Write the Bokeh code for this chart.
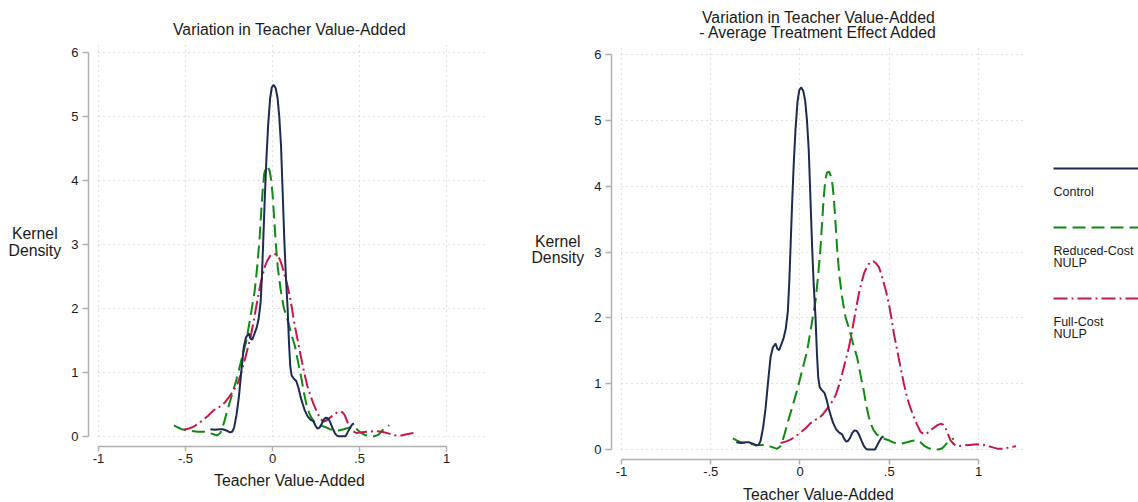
from bokeh.plotting import figure
from bokeh.models import Range1d, FixedTicker, Label
from bokeh.layouts import row
from bokeh.embed import file_html
from bokeh.resources import INLINE
from bokeh.core.properties import value

FONT = "Liberation Sans"
TXT = "#1a1a1a"

# ---------------- data (teacher value-added kernel densities) ----------------
ctrl_x = [-0.357, -0.33, -0.305, -0.287, -0.265, -0.245, -0.232, -0.221, -0.207, -0.193,
          -0.178, -0.165, -0.152, -0.137, -0.127, -0.117, -0.104, -0.091, -0.08, -0.068,
          -0.06, -0.053, -0.044, -0.035, -0.025, -0.014, -0.004, 0.007, 0.018, 0.029,
          0.039, 0.049, 0.058, 0.068, 0.077, 0.087, 0.095, 0.102, 0.11, 0.12,
          0.137, 0.15, 0.161, 0.174, 0.186, 0.202, 0.218, 0.236, 0.248, 0.259,
          0.269, 0.279, 0.292, 0.305, 0.318, 0.33, 0.345, 0.358, 0.37, 0.38,
          0.42, 0.432, 0.445, 0.457, 0.468]
ctrl_y = [0.11, 0.10, 0.11, 0.11, 0.09, 0.06, 0.07, 0.13, 0.33, 0.62,
          1.05, 1.40, 1.55, 1.61, 1.53, 1.51, 1.60, 1.70, 1.83, 2.10,
          2.55, 3.07, 3.75, 4.34, 4.87, 5.28, 5.46, 5.50, 5.45, 5.30,
          5.00, 4.55, 3.85, 3.07, 2.50, 2.00, 1.45, 1.10, 0.95, 0.91,
          0.86, 0.75, 0.62, 0.50, 0.40, 0.31, 0.26, 0.23, 0.16, 0.12,
          0.13, 0.17, 0.25, 0.29, 0.28, 0.23, 0.13, 0.05, 0.01, 0.0,
          0.0, 0.06, 0.13, 0.18, 0.20]

red_x = [-0.566, -0.545, -0.523, -0.48, -0.43, -0.39, -0.35, -0.318, -0.30, -0.29,
         -0.276, -0.262, -0.235, -0.206, -0.178, -0.15, -0.125, -0.103, -0.088, -0.075,
         -0.065, -0.057, -0.048, -0.038, -0.027, -0.015, -0.007, 0.0, 0.01, 0.018,
         0.03, 0.046, 0.065, 0.08, 0.093, 0.11, 0.13, 0.15, 0.168, 0.182,
         0.196, 0.21, 0.223, 0.24, 0.261, 0.285, 0.308, 0.33, 0.355, 0.38,
         0.41, 0.435, 0.463, 0.485, 0.504, 0.53, 0.56, 0.585, 0.607, 0.625,
         0.644, 0.672]
red_y = [0.17, 0.14, 0.11, 0.09, 0.07, 0.07, 0.04, 0.01, 0.05, 0.11,
         0.24, 0.38, 0.63, 0.90, 1.20, 1.50, 1.90, 2.26, 2.65, 3.07,
         3.50, 3.83, 4.10, 4.21, 4.22, 4.14, 4.00, 3.80, 3.40, 3.05,
         2.65, 2.31, 2.01, 1.88, 1.76, 1.58, 1.40, 1.12, 0.88, 0.66,
         0.49, 0.37, 0.29, 0.23, 0.19, 0.16, 0.14, 0.11, 0.09, 0.09,
         0.11, 0.13, 0.14, 0.11, 0.06, 0.02, 0.0, 0.0, 0.02, 0.07,
         0.13, 0.17]

full_x = [-0.509, -0.48, -0.453, -0.425, -0.397, -0.37, -0.341, -0.315, -0.295, -0.27,
          -0.248, -0.222, -0.201, -0.182, -0.164, -0.145, -0.126, -0.11, -0.098, -0.084,
          -0.07, -0.056, -0.042, -0.028, -0.014, -0.002, 0.01, 0.026, 0.042, 0.056,
          0.07, 0.085, 0.098, 0.112, 0.126, 0.145, 0.163, 0.182, 0.20, 0.22,
          0.238, 0.257, 0.275, 0.295, 0.313, 0.33, 0.35, 0.37, 0.387, 0.40,
          0.415, 0.43, 0.443, 0.462, 0.481, 0.51, 0.55, 0.59, 0.63, 0.67,
          0.71, 0.74, 0.77, 0.81]
full_y = [0.10, 0.12, 0.15, 0.20, 0.26, 0.32, 0.40, 0.45, 0.47, 0.54,
          0.62, 0.72, 0.82, 0.97, 1.15, 1.35, 1.55, 1.78, 1.96, 2.17,
          2.37, 2.53, 2.67, 2.76, 2.82, 2.85, 2.86, 2.83, 2.77, 2.66,
          2.52, 2.37, 2.21, 2.00, 1.76, 1.50, 1.25, 1.00, 0.79, 0.62,
          0.49, 0.37, 0.27, 0.23, 0.25, 0.29, 0.33, 0.37, 0.39, 0.38,
          0.33, 0.23, 0.14, 0.08, 0.05, 0.06, 0.07, 0.08, 0.07, 0.04,
          0.01, 0.01, 0.03, 0.05]

# average treatment effects added in the right panel
ate_ctrl = 0.0
ate_red = 0.19
ate_full = 0.40

x_ticks = [-1, -0.5, 0, 0.5, 1]
x_tick_labels = ["-1", "-.5", "0", ".5", "1"]
y_ticks = [0, 1, 2, 3, 4, 5, 6]
y_tick_labels = ["0", "1", "2", "3", "4", "5", "6"]

series_names = ["Control", "Reduced-Cost\nNULP", "Full-Cost\nNULP"]
series_colors = ["#1e2b50", "#108a10", "#c8174c"]
series_dash = ["solid", "13 6", "14 4 2 4"]

title_left = "Variation in Teacher Value-Added"
title_right = ["Variation in Teacher Value-Added", "- Average Treatment Effect Added"]
xlab = "Teacher Value-Added"
ylab = ["Kernel", "Density"]


def style(p, x_axis_at, y_axis_at, x_end, y_end):
    p.outline_line_color = None
    p.background_fill_color = "white"
    p.border_fill_color = "white"
    p.xaxis[0].fixed_location = x_axis_at
    p.yaxis[0].fixed_location = y_axis_at
    for ax, ticks, labs in ((p.xaxis[0], x_ticks, x_tick_labels), (p.yaxis[0], y_ticks, y_tick_labels)):
        ax.ticker = FixedTicker(ticks=ticks)
        ov = {}
        for t, l in zip(ticks, labs):
            ov[float(t)] = l
        ax.major_label_overrides = ov
        ax.axis_line_color = "#b0b0b0"
        ax.axis_line_width = 1.5
        ax.major_tick_line_color = "#b0b0b0"
        ax.major_tick_line_width = 1.5
        ax.major_tick_in = 0
        ax.minor_tick_line_color = None
        ax.major_label_text_font = FONT
        ax.major_label_text_font_size = "13px"
        ax.major_label_text_color = TXT
        ax.bounds = (ticks[0], ticks[-1])
    p.xaxis[0].major_tick_out = 5
    p.xaxis[0].major_label_standoff = 3
    p.yaxis[0].major_tick_out = 6
    p.yaxis[0].major_label_standoff = 4
    p.xgrid.ticker = FixedTicker(ticks=x_ticks)
    p.ygrid.ticker = FixedTicker(ticks=y_ticks)
    for g in (p.xgrid[0], p.ygrid[0]):
        g.grid_line_color = "#c4c4c4"
        g.grid_line_dash = "1 4"
        g.grid_line_width = 1
    p.xgrid[0].bounds = (x_ticks[0], x_ticks[-1])
    p.ygrid[0].bounds = (y_ticks[0], y_ticks[-1])
    p.xgrid[0].cross_bounds = (0, y_end)
    p.ygrid[0].cross_bounds = (-1, x_end)


def label(p, x, y, text, size="15.8px"):
    p.add_layout(Label(x=x, y=y, text=text, text_align="center", text_baseline="alphabetic",
                       text_font=FONT, text_font_size=size, text_color=TXT))


# ---------------- left panel (frame = whole figure, axes at fixed locations) ----------------
p1 = figure(width=520, height=502, x_range=Range1d(-1.5632, 1.4253), y_range=Range1d(-1.0380, 6.8217),
            min_border=0, toolbar_location=None, output_backend="svg", title=None)
style(p1, -0.1566, -1.0575, 1.2356, 6.164)
for xs, ys, c, d in ((red_x, red_y, series_colors[1], series_dash[1]),
                     (full_x, full_y, series_colors[2], series_dash[2]),
                     (ctrl_x, ctrl_y, series_colors[0], series_dash[0])):
    p1.line(xs, ys, line_color=c, line_width=2, line_dash=d)
label(p1, 0.0977, 6.360, title_left)
label(p1, 0.0977, -0.686, xlab)
label(p1, -1.366, 3.177, ylab[0])
label(p1, -1.366, 2.915, ylab[1])

# ---------------- right panel ----------------
p2 = figure(width=510, height=502, x_range=Range1d(-1.5658, 1.2913), y_range=Range1d(-0.8051, 6.8206),
            min_border=0, toolbar_location=None, output_backend="svg", title=None)
style(p2, -0.1519, -1.056, 1.263, 6.137)
for xs, ys, sh, c, d in ((red_x, red_y, ate_red, series_colors[1], series_dash[1]),
                         (full_x, full_y, ate_full, series_colors[2], series_dash[2]),
                         (ctrl_x, ctrl_y, ate_ctrl, series_colors[0], series_dash[0])):
    p2.line([v + sh for v in xs], ys, line_color=c, line_width=2, line_dash=d)
label(p2, 0.1036, 6.560, title_right[0])
label(p2, 0.1036, 6.338, title_right[1])
label(p2, 0.1036, -0.683, xlab)
label(p2, -1.357, 3.160, ylab[0])
label(p2, -1.357, 2.914, ylab[1])

# ---------------- legend ----------------
p3 = figure(width=108, height=502, x_range=Range1d(0, 108), y_range=Range1d(502, 0),
            min_border=0, toolbar_location=None, output_backend="svg", title=None)
p3.axis.visible = False
p3.grid.visible = False
p3.outline_line_color = None
leg_line_y = [168, 227, 298]
leg_text_y = [191.5, 250, 321.5]
for name, c, d, ly0, ty0 in zip(series_names, series_colors, series_dash, leg_line_y, leg_text_y):
    p3.line([23, 108], [ly0, ly0], line_color=c, line_width=2, line_dash=d)
    for k, part in enumerate(name.split("\n")):
        p3.text(x=[23], y=[ty0 + 12.3 * k], text=[part], text_font=value(FONT),
                text_font_size="12.5px", text_color=TXT, text_baseline="alphabetic")

layout = row(p1, p2, p3)
open("out.html", "w").write(file_html(layout, INLINE))
